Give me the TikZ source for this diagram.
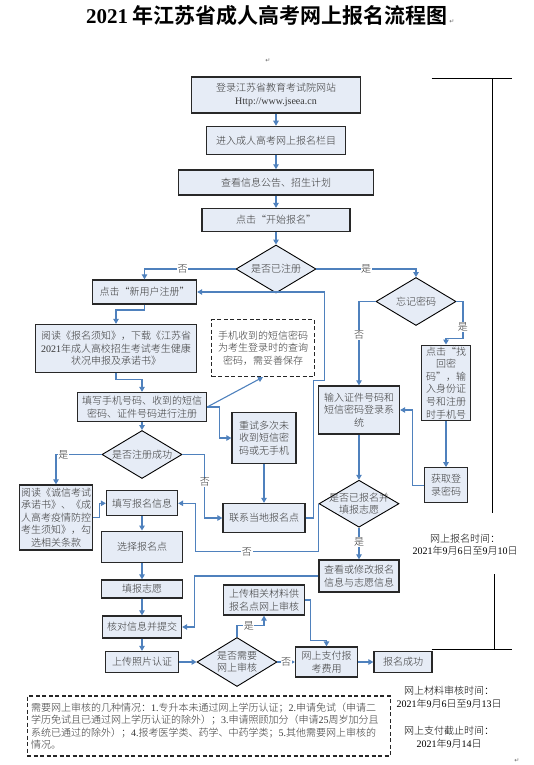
\documentclass[tikz,border=0pt]{standalone}
\usepackage{fontspec}
\setmainfont{Noto Sans CJK SC}[UprightFont=* Light,BoldFont=* Bold]
\newfontfamily\latin{Liberation Serif}
\newfontfamily\dejavu{DejaVu Sans}
\usetikzlibrary{shapes.geometric,arrows.meta,calc}
\definecolor{boxfill}{RGB}{230,236,246}
\definecolor{boxline}{RGB}{40,40,40}
\definecolor{arrowblue}{RGB}{79,129,189}
\definecolor{txt}{RGB}{55,55,55}
\newcommand\lt[1]{{\latin #1}}
\newcommand\bodyfont{\fontsize{10}{12.6}\selectfont}
\begin{document}
\begin{tikzpicture}[x=1pt,y=-1pt,
 box/.style={draw=boxline,line width=1.3pt,fill=boxfill,inner sep=0pt,align=center,font=\bodyfont,text=txt},
 sz/.style 2 args={minimum width=#1pt,minimum height=#2pt},
 dia/.style={diamond,draw=black,line width=0.9pt,fill=boxfill,inner sep=0pt},
 dtext/.style={align=center,font=\bodyfont,text=txt,inner sep=0pt},
 notebox/.style={draw=black!85,line width=1.2pt,dash pattern=on 4pt off 2.5pt,fill=white,inner sep=0pt,font=\bodyfont,text=txt},
 arr/.style={draw=arrowblue,line width=1.1pt,-{Triangle[width=5.5pt,length=5pt]}},
 lab/.style={fill=white,inner sep=0.6pt,font=\bodyfont,text=txt},
 plaintext/.style={font=\bodyfont,text=black,align=center,inner sep=0pt},
 retmark/.style={font={\dejavu\fontsize{6}{6}\selectfont},text=black!60,inner sep=0pt},
 bracketline/.style={draw=black,line width=0.9pt}
]
\useasboundingbox (0,0) rectangle (533,765);

% title
\node[font={\fontsize{21}{24}\selectfont\bfseries},inner sep=0pt] (title) at (267,16) {\lt{\bfseries 2021} 年江苏省成人高考网上报名流程图};
\node[retmark,anchor=west] (r1) at ($(title.east)+(1,6)$) {↵};
\node[retmark] (r2) at (268,61) {↵};
\node[retmark] (r3) at (517,761) {↵};

% main column
\node[box,sz={169}{36}] (b1) at (276,95) {登录江苏省教育考试院网站\\\lt{Http://www.jseea.cn}};
\node[box,sz={139}{28}] (b2) at (276,140.4) {进入成人高考网上报名栏目};
\node[box,sz={195}{25}] (b3) at (276,182.4) {查看信息公告、招生计划};
\node[box,sz={148}{23}] (b4) at (276,220) {点击“开始报名”};
\node[dia,sz={80}{48}] (d1) at (276,269) {};
\node[dtext] at (d1) {是否已注册};

% left branch
\node[box,sz={104}{24}] (bNew) at (144.5,292) {点击“新用户注册”};
\node[box,sz={161}{48}] (bRead) at (116,348.5) {阅读《报名须知》，下载《江苏省\\\lt{2021}年成人高校招生考试考生健康\\状况申报及承诺书》};
\node[box,sz={129}{29}] (bFill) at (142,407) {填写手机号码、收到的短信\\密码、证件号码进行注册};
\node[notebox,sz={103}{57},align=center] (note1) at (263,348) {手机收到的短信密码\\为考生登录时的查询\\密码，需妥善保存};
\node[dia,sz={80}{48}] (d2) at (142,454.5) {};
\node[dtext] at (d2) {是否注册成功};
\node[box,sz={73}{65}] (bHonest) at (56,517.5) {阅读《诚信考试\\承诺书》、《成\\人高考疫情防控\\考生须知》，勾\\选相关条款};
\node[box,sz={71}{25}] (bInfo) at (142,503.3) {填写报名信息};
\node[box,sz={64}{51}] (bRetry) at (264,438) {重试多次未\\收到短信密\\码或无手机};
\node[box,sz={82}{29}] (bContact) at (264,518) {联系当地报名点};
\node[box,sz={81}{31}] (bChoose) at (142,546.7) {选择报名点};
\node[box,sz={81}{18}] (bWish) at (142,589) {填报志愿};
\node[box,sz={79}{22}] (bCheck) at (142,627) {核对信息并提交};
\node[box,sz={73}{21}] (bPhoto) at (142,662) {上传照片认证};
\node[dia,sz={80}{49}] (d3) at (237,662) {};
\node[dtext] at (d3) {是否需要\\网上审核};
\node[box,sz={81}{30}] (bUpload) at (264,600) {上传相关材料供\\报名点网上审核};
\node[box,sz={62}{30}] (bPay) at (326.5,662) {网上支付报\\考费用};
\node[box,sz={58}{21}] (bOK) at (403,662) {报名成功};

% right branch
\node[dia,sz={80}{48}] (d4) at (416,301.5) {};
\node[dtext] at (d4) {忘记密码};
\node[box,sz={49}{75}] (bFind) at (446,382.7) {点击“找\\回密\\码”，输\\入身份证\\号和注册\\时手机号};
\node[box,sz={43}{35}] (bGet) at (446,485.3) {获取登\\录密码};
\node[box,sz={81}{48}] (bLogin) at (359,410) {输入证件号码和\\短信密码登录系\\统};
\node[dia,sz={80}{47}] (d5) at (359,503.7) {};
\node[dtext] at (d5) {是否已报名并\\填报志愿};
\node[box,sz={80}{32}] (bView) at (359,576) {查看或修改报名\\信息与志愿信息};

% notes and times
\node[notebox,sz={363}{60},align=left,text width=355pt] (note2) at (208.7,726) {需要网上审核的几种情况：\lt{1.}专升本未通过网上学历认证；\lt{2.}申请免试（申请二\\学历免试且已通过网上学历认证的除外）；\lt{3.}申请照顾加分（申请\lt{25}周岁加分且\\系统已通过的除外）；\lt{4.}报考医学类、药学、中药学类；\lt{5.}其他需要网上审核的\\情况。};
\node[plaintext] (tA) at (465,544.5) {网上报名时间：\\\lt{2021}年\lt{9}月\lt{6}日至\lt{9}月\lt{10}日};
\node[plaintext] (tB) at (449,697) {网上材料审核时间：\\\lt{2021}年\lt{9}月\lt{6}日至\lt{9}月\lt{13}日};
\node[plaintext] (tC) at (449,737.5) {网上支付截止时间：\\\lt{2021}年\lt{9}月\lt{14}日};

% brackets
\draw[bracketline] (431.7,78.5) -- (512.2,78.5) (492,78.5) -- (492,513);
\draw[bracketline] (494.5,574) -- (494.5,649) (431.7,649) -- (512.2,649);

% connectors
\draw[arr] (b1.south) -- (b2.north);
\draw[arr] (b2.south) -- (b3.north);
\draw[arr] (b3.south) -- (b4.north);
\draw[arr] (b4.south) -- (d1.north);
\draw[arr] (d1.west) -| node[lab,pos=0.29]{否} (bNew.north);
\draw[arr] (d1.east) -| node[lab,pos=0.25]{是} (d4.north);
\draw[arr] (d4.west) -| node[lab,pos=0.7]{否} (bLogin.north);
\draw[arr] (d4.east) -- ++(6.5,0) -- node[lab,pos=0.7]{是} ++(0,37) -| (bFind.north);
\draw[arr] (bFind.south) -- (bGet.north);
\draw[arr] (bGet.west) -- ++(-11.6,0) |- (bLogin.east);
\draw[arr] (bLogin.south) -- (d5.north);
\draw[arr] (d5.south) -- node[lab,pos=0.45]{是} (bView.north);
\draw[arr] (bView.west) -| ($(bCheck.east)+(12,0)$) -- (bCheck.east);
\draw[arr] (d5.west) -- ++(0,48) -| node[lab,pos=0.29]{否} ($(bInfo.east)+(17,0)$) -- (bInfo.east);
\draw[arr] (bContact.east) -- ++(8,0) -- ++(0,-137.7) -- ++(10.7,0) |- (bNew.east);
\draw[arr] (bNew.south) -- ++(0,5.3) -| (bRead.north);
\draw[arr] (bRead.south) -- ++(0,6.5) -| (bFill.north);
\draw[arr] (bFill.east) -- (note1.south);
\draw[arr] (bFill.east) -- ++(12,0) |- (bRetry.west);
\draw[arr] (bRetry.south) -- (bContact.north);
\draw[arr] (bFill.south) -- (d2.north);
\draw[arr] (d2.west) -| node[lab,pos=0.42]{是} (bHonest.north);
\draw[arr] (d2.east) -- ++(22.4,0) |- node[lab,pos=0.22]{否} (bContact.west);
\draw[arr] (bHonest.east) -- ++(6.7,0) |- (bInfo.west);
\draw[arr] (bInfo.south) -- (bChoose.north);
\draw[arr] (bChoose.south) -- (bWish.north);
\draw[arr] (bWish.south) -- (bCheck.north);
\draw[arr] (bCheck.south) -- (bPhoto.north);
\draw[arr] (bPhoto.east) -- (d3.west);
\draw[arr] (d3.north) -- ++(0,-11.5) -| node[lab,pos=0.22]{是} (bUpload.south);
\draw[arr] (bUpload.east) -- ++(5.7,0) |- ($(bPay.north)+(0,-5.5)$) -- (bPay.north);
\draw[arr] (d3.east) -- node[lab]{否} (bPay.west);
\draw[arr] (bPay.east) -- (bOK.west);
\end{tikzpicture}
\end{document}
